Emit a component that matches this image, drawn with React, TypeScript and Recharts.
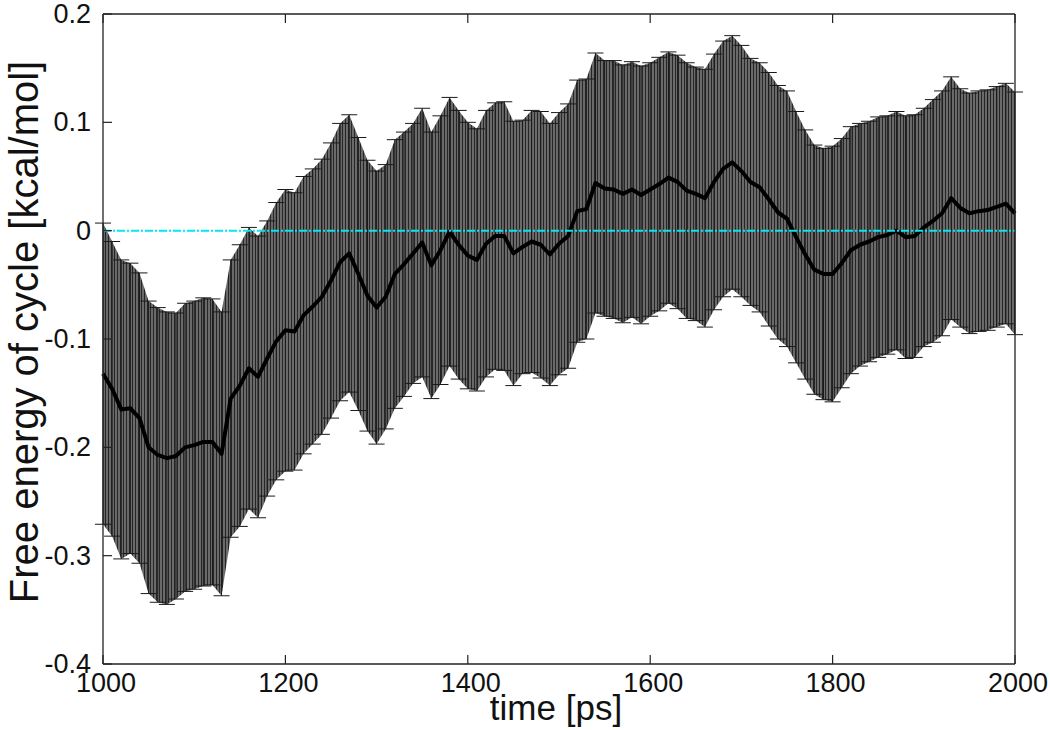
import { Area, ComposedChart, ErrorBar, Label, Line, ReferenceLine, XAxis, YAxis } from 'recharts';

// time axis (ps), one reading every 10 ps
const times = [
  1000, 1010, 1020, 1030, 1040, 1050, 1060, 1070, 1080, 1090,
  1100, 1110, 1120, 1130, 1140, 1150, 1160, 1170, 1180, 1190,
  1200, 1210, 1220, 1230, 1240, 1250, 1260, 1270, 1280, 1290,
  1300, 1310, 1320, 1330, 1340, 1350, 1360, 1370, 1380, 1390,
  1400, 1410, 1420, 1430, 1440, 1450, 1460, 1470, 1480, 1490,
  1500, 1510, 1520, 1530, 1540, 1550, 1560, 1570, 1580, 1590,
  1600, 1610, 1620, 1630, 1640, 1650, 1660, 1670, 1680, 1690,
  1700, 1710, 1720, 1730, 1740, 1750, 1760, 1770, 1780, 1790,
  1800, 1810, 1820, 1830, 1840, 1850, 1860, 1870, 1880, 1890,
  1900, 1910, 1920, 1930, 1940, 1950, 1960, 1970, 1980, 1990,
  2000,
];

// free energy of cycle, kcal/mol
const meanEnergy = [
  -0.132, -0.146, -0.165, -0.164, -0.173, -0.200, -0.207, -0.210, -0.208, -0.200,
  -0.198, -0.195, -0.195, -0.206, -0.155, -0.143, -0.127, -0.135, -0.118, -0.102,
  -0.092, -0.093, -0.078, -0.070, -0.061, -0.046, -0.029, -0.021, -0.040, -0.060,
  -0.071, -0.061, -0.040, -0.031, -0.021, -0.011, -0.032, -0.018, -0.001, -0.013,
  -0.023, -0.027, -0.012, -0.005, -0.005, -0.021, -0.015, -0.010, -0.013, -0.022,
  -0.012, -0.005, 0.018, 0.020, 0.044, 0.039, 0.038, 0.034, 0.038, 0.033,
  0.038, 0.043, 0.049, 0.045, 0.037, 0.034, 0.030, 0.045, 0.057, 0.063,
  0.055, 0.045, 0.040, 0.029, 0.017, 0.011, -0.006, -0.022, -0.036, -0.040,
  -0.040, -0.030, -0.018, -0.013, -0.010, -0.006, -0.004, 0.000, -0.006, -0.005,
  0.003, 0.009, 0.016, 0.030, 0.021, 0.016, 0.018, 0.019, 0.022, 0.025,
  0.016,
];

// error bar half width
const errEnergy = [
  0.139, 0.136, 0.138, 0.134, 0.134, 0.135, 0.136, 0.135, 0.132, 0.133,
  0.133, 0.133, 0.132, 0.131, 0.128, 0.130, 0.130, 0.130, 0.127, 0.128,
  0.130, 0.128, 0.128, 0.127, 0.127, 0.127, 0.128, 0.128, 0.126, 0.125,
  0.126, 0.122, 0.124, 0.122, 0.120, 0.124, 0.123, 0.124, 0.124, 0.124,
  0.123, 0.121, 0.123, 0.123, 0.124, 0.122, 0.117, 0.121, 0.123, 0.121,
  0.121, 0.122, 0.121, 0.120, 0.120, 0.118, 0.119, 0.119, 0.118, 0.119,
  0.117, 0.117, 0.116, 0.117, 0.118, 0.117, 0.119, 0.118, 0.118, 0.117,
  0.116, 0.114, 0.115, 0.117, 0.117, 0.118, 0.116, 0.115, 0.115, 0.116,
  0.118, 0.115, 0.114, 0.112, 0.111, 0.111, 0.110, 0.110, 0.112, 0.112,
  0.110, 0.112, 0.113, 0.112, 0.110, 0.111, 0.111, 0.111, 0.111, 0.111,
  0.112,
];

const xTicks = [1000, 1200, 1400, 1600, 1800, 2000];
const yTicks = [-0.4, -0.3, -0.2, -0.1, 0, 0.1, 0.2];

const FONT = '"Liberation Sans", Arial, Helvetica, sans-serif';
const INK = '#222';
const TICK_LEN = 9;

const data = times.map((t, i) => ({
  t,
  mean: meanEnergy[i],
  err: errEnergy[i],
  band: [meanEnergy[i] - errEnergy[i], meanEnergy[i] + errEnergy[i]],
}));

const fmtY = (v: number) => (v === 0 ? '0' : String(Number(v.toFixed(1))));

const LeftTick = ({ x, y, payload }: any) => (
  <g>
    <line x1={x} x2={x + TICK_LEN} y1={y} y2={y} stroke={INK} strokeWidth={1.2} />
    <text x={x - 12} y={y} textAnchor="end" dominantBaseline="central" fontSize={27} fontFamily={FONT} fill="#111">
      {fmtY(payload.value)}
    </text>
  </g>
);

const RightTick = ({ x, y }: any) => (
  <line x1={x} x2={x - TICK_LEN} y1={y} y2={y} stroke={INK} strokeWidth={1.2} />
);

const BottomTick = ({ x, y, payload }: any) => (
  <g>
    <line x1={x} x2={x} y1={y} y2={y - TICK_LEN} stroke={INK} strokeWidth={1.2} />
    <text x={x + 3} y={y + 28} textAnchor="middle" fontSize={27} fontFamily={FONT} fill="#111">
      {payload.value}
    </text>
  </g>
);

const TopTick = ({ x, y }: any) => (
  <line x1={x} x2={x} y1={y} y2={y + TICK_LEN} stroke={INK} strokeWidth={1.2} />
);

const XTitle = ({ viewBox }: any) => (
  <text x={viewBox.x + viewBox.width / 2 - 3} y={viewBox.y + 56} textAnchor="middle" fontSize={35} fontFamily={FONT} fill="#111">
    time [ps]
  </text>
);

const YTitle = ({ viewBox }: any) => {
  const cx = viewBox.x + 38;
  const cy = viewBox.y + viewBox.height / 2 - 7;
  return (
    <text x={cx} y={cy} transform={`rotate(-90, ${cx}, ${cy})`} textAnchor="middle" fontSize={40} fontFamily={FONT} fill="#111">
      Free energy of cycle [kcal/mol]
    </text>
  );
};

export default function App() {
  return (
    <div style={{ position: 'absolute', left: 0, top: 0, width: 1050, height: 730 }}>
      <ComposedChart width={1050} height={730} data={data} margin={{ top: 13, right: 34, bottom: 0, left: 0 }}>
        <defs>
          <pattern id="errStripes" patternUnits="userSpaceOnUse" width={3} height={10}>
            <rect x={0} y={0} width={3} height={10} fill="#6a6a6a" />
            <rect x={0} y={0} width={1} height={10} fill="#262626" />
          </pattern>
        </defs>
        <XAxis
          xAxisId="b"
          dataKey="t"
          type="number"
          domain={[1000, 2000]}
          ticks={xTicks}
          interval={0}
          height={66}
          tickSize={0}
          tickMargin={0}
          tickLine={false}
          axisLine={{ stroke: INK, strokeWidth: 1.3 }}
          tick={<BottomTick />}
        >
          <Label content={<XTitle />} />
        </XAxis>
        <XAxis
          xAxisId="t"
          orientation="top"
          dataKey="t"
          type="number"
          domain={[1000, 2000]}
          ticks={xTicks}
          interval={0}
          height={1}
          tickSize={0}
          tickMargin={0}
          tickLine={false}
          axisLine={{ stroke: INK, strokeWidth: 1.3 }}
          tick={<TopTick />}
        />
        <YAxis
          yAxisId="l"
          type="number"
          domain={[-0.4, 0.2]}
          ticks={yTicks}
          interval={0}
          width={103}
          tickSize={0}
          tickMargin={0}
          tickLine={false}
          axisLine={{ stroke: INK, strokeWidth: 1.3 }}
          tick={<LeftTick />}
        >
          <Label content={<YTitle />} />
        </YAxis>
        <YAxis
          yAxisId="r"
          orientation="right"
          type="number"
          domain={[-0.4, 0.2]}
          ticks={yTicks}
          interval={0}
          width={1}
          tickSize={0}
          tickMargin={0}
          tickLine={false}
          axisLine={{ stroke: INK, strokeWidth: 1.3 }}
          tick={<RightTick />}
        />
        <Area
          xAxisId="b"
          yAxisId="l"
          type="linear"
          dataKey="band"
          stroke="none"
          fill="url(#errStripes)"
          fillOpacity={1}
          dot={false}
          activeDot={false}
          isAnimationActive={false}
        />
        <Line
          xAxisId="b"
          yAxisId="l"
          type="linear"
          dataKey="mean"
          stroke="none"
          dot={false}
          activeDot={false}
          isAnimationActive={false}
        >
          <ErrorBar dataKey="err" direction="y" width={8} stroke="#1a1a1a" strokeWidth={1} isAnimationActive={false} />
        </Line>
        <Line
          xAxisId="b"
          yAxisId="l"
          type="linear"
          dataKey="mean"
          stroke="#000"
          strokeWidth={4}
          strokeLinejoin="round"
          dot={false}
          activeDot={false}
          isAnimationActive={false}
        />
        <ReferenceLine xAxisId="b" yAxisId="l" y={0} stroke="#00e8f0" strokeWidth={2} strokeDasharray="8 2 2 2" />
      </ComposedChart>
    </div>
  );
}
